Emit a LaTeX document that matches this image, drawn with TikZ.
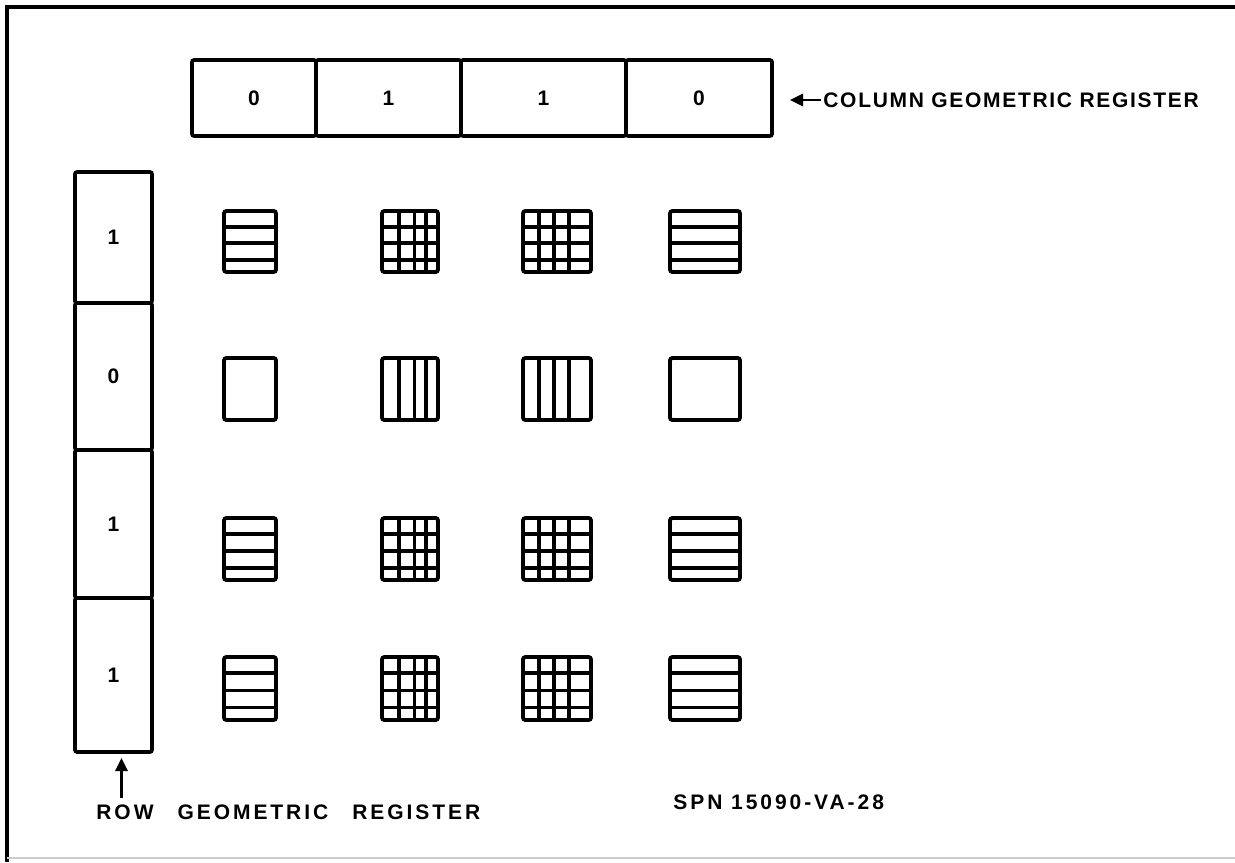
\documentclass[tikz,border=0pt]{standalone}
\usepackage{fontspec}
\newfontfamily\lettering[LetterSpace=8]{Liberation Sans}
\usetikzlibrary{arrows.meta, positioning}

\begin{document}
\begin{tikzpicture}[
    x=0.5pt, y=-0.5pt,
    every node/.style={font=\lettering\bfseries\fontsize{10.5}{12}\selectfont},
    reg/.style={draw, line width=1.8pt, inner sep=0pt, outer sep=0pt, rounded corners=1pt},
    icon/.style={line width=1.9pt, rounded corners=1.2pt},
    arr/.style={-{Triangle[length=6.5pt, width=6pt]}, line width=1.4pt}
]
\useasboundingbox (0,0) rectangle (1235,862);
% frame
\draw[line width=1.8pt] (1235,7) -- (7,7) -- (7,862);
\draw[black!20, line width=1pt] (7,858) -- (1235,858);

% column geometric register
\node[reg, minimum width=62pt,   minimum height=38pt] (col1) at (254,98)   {0};
\node[reg, minimum width=72.5pt, minimum height=38pt] (col2) at (388.5,98) {1};
\node[reg, minimum width=82.5pt, minimum height=38pt] (col3) at (543.5,98) {1};
\node[reg, minimum width=73pt,   minimum height=38pt] (col4) at (699,98)   {0};
\node[anchor=west, inner xsep=1pt] (collabel) at (821,100) {COLUMN GEOMETRIC REGISTER};
\draw[arr, shorten >=9pt] (collabel.west) -- (col4.east |- collabel.west);

% row geometric register
\node[reg, minimum width=38.5pt, minimum height=65.5pt] (row1) at (113.5,237.5) {1};
\node[reg, minimum width=38.5pt, minimum height=73.5pt] (row2) at (113.5,376.5) {0};
\node[reg, minimum width=38.5pt, minimum height=74pt]   (row3) at (113.5,524)   {1};
\node[reg, minimum width=38.5pt, minimum height=77pt]   (row4) at (113.5,675)   {1};
\node[anchor=west, inner xsep=1pt] (rowlabel) at (94,812)
  {\addfontfeature{LetterSpace=14}ROW\hspace{12pt}GEOMETRIC\hspace{12pt}REGISTER};
\node[anchor=west, inner xsep=1pt] (spn) at (671,802) {\addfontfeature{LetterSpace=14}SPN 15090-VA-28};
\draw[arr, shorten >=3pt] ([xshift=4pt]row4.south |- rowlabel.north) -- ([xshift=4pt]row4.south);

% pattern cells: x0/x1 per column, y0/y1 per row
\newcommand\hbars[4]{% x0,y0,x1,y1
  \draw[icon] (#1,#2) rectangle (#3,#4);
  \foreach \f in {0.26,0.53,0.8}
    \draw[icon] (#1,{#2+\f*(#4-#2)}) -- (#3,{#2+\f*(#4-#2)});}
\newcommand\vbars[5]{% x0,y0,x1,y1,fractions
  \draw[icon] (#1,#2) rectangle (#3,#4);
  \foreach \f in {#5}
    \draw[icon] ({#1+\f*(#3-#1)},#2) -- ({#1+\f*(#3-#1)},#4);}
\newcommand\gridcell[5]{%
  \hbars{#1}{#2}{#3}{#4}
  \foreach \f in {#5}
    \draw[icon] ({#1+\f*(#3-#1)},#2) -- ({#1+\f*(#3-#1)},#4);}

\foreach \ya/\yb in {211/272, 518/580, 657/720}{
  \hbars{224}{\ya}{276}{\yb}
  \gridcell{382}{\ya}{438}{\yb}{0.3,0.58,0.78}
  \gridcell{523}{\ya}{591}{\yb}{0.24,0.46,0.68}
  \hbars{670}{\ya}{740}{\yb}
}
\draw[icon] (224,358) rectangle (276,420);
\vbars{382}{358}{438}{420}{0.3,0.58,0.78}
\vbars{523}{358}{591}{420}{0.24,0.46,0.68}
\draw[icon] (670,358) rectangle (740,420);
\end{tikzpicture}
\end{document}
